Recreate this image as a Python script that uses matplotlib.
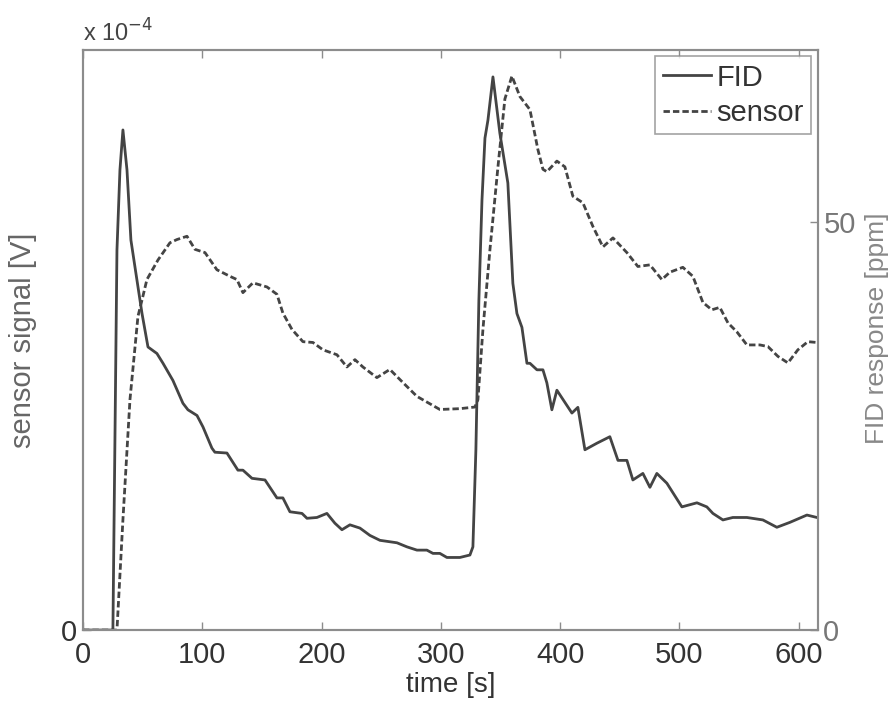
import matplotlib
matplotlib.use("Agg")
import matplotlib.pyplot as plt
import numpy as np

plt.rcParams['font.family'] = ['Liberation Sans', 'DejaVu Sans']

# FID response [ppm] (right axis)
fid_t = [0.0, 25.1, 28.5, 31.0, 33.5, 36.9, 40.2, 43.6, 49.5, 54.5, 62.0, 67.1, 75.4, 83.8, 88.0,
         95.6, 100.6, 108.1, 110.6, 120.7, 129.9, 134.1, 141.7, 152.6, 162.6, 167.6, 173.5, 183.6,
         187.8, 196.1, 204.5, 211.2, 217.1, 223.8, 232.2, 240.6, 249.0, 263.2, 271.6, 280.0, 288.3,
         293.4, 299.2, 305.1, 316.0, 324.4, 326.9, 329.4, 331.9, 334.5, 337.0, 339.5, 343.7, 349.5,
         356.2, 360.4, 363.8, 368.0, 372.2, 374.7, 380.6, 385.6, 388.9, 393.1, 397.3, 409.9, 414.9,
         420.8, 430.8, 441.7, 448.5, 456.0, 461.0, 469.4, 475.3, 481.1, 489.5, 502.1, 514.7, 523.0,
         528.1, 536.5, 544.8, 556.6, 570.0, 581.7, 592.6, 606.9, 615.3]
fid_ppm = [0, 0, 46.6, 56.4, 61.3, 56.4, 47.8, 44.5, 38.8, 34.7, 33.9, 32.7, 30.6, 27.8, 27.0,
           26.3, 24.9, 22.3, 21.8, 21.7, 19.6, 19.6, 18.6, 18.4, 16.2, 16.2, 14.5, 14.3,
           13.7, 13.8, 14.3, 13.1, 12.3, 12.9, 12.5, 11.6, 11.0, 10.7, 10.2, 9.8, 9.8,
           9.4, 9.4, 8.9, 8.9, 9.2, 10.2, 22.1, 40.4, 52.7, 60.3, 62.5, 67.8, 60.9,
           54.8, 42.5, 38.8, 37.1, 32.7, 32.7, 31.9, 31.9, 30.3, 27.0, 29.4, 26.6, 27.3,
           22.1, 22.9, 23.7, 20.8, 20.8, 18.4, 19.2, 17.5, 19.2, 18.0, 15.1, 15.6, 15.1,
           14.3, 13.5, 13.8, 13.8, 13.5, 12.6, 13.2, 14.1, 13.8]

# sensor signal [x 1e-4 V] (left axis)
sen_t = [0.0, 28.5, 33.5, 39.4, 46.1, 49.5, 53.6, 62.9, 72.9, 78.8, 87.2, 93.9, 102.3, 112.3,
         123.2, 129.1, 134.1, 142.5, 154.2, 162.6, 167.6, 175.2, 184.4, 192.8, 201.2, 212.9,
         221.3, 228.0, 234.7, 246.4, 257.3, 268.2, 280.0, 299.2, 316.0, 328.6, 331.1, 335.3,
         341.2, 347.9, 353.7, 359.6, 366.3, 374.7, 381.4, 385.6, 388.9, 397.3, 404.0, 410.7,
         419.1, 427.5, 435.9, 444.3, 456.0, 465.2, 475.3, 485.3, 492.0, 502.9, 511.3, 519.7,
         527.2, 533.9, 540.7, 548.2, 556.6, 567.5, 574.2, 582.6, 591.0, 599.3, 607.7, 615.3]
sen_v = [0, 0, 1.35, 2.82, 3.84, 4.04, 4.29, 4.53, 4.74, 4.78, 4.82, 4.66, 4.62, 4.41,
         4.33, 4.29, 4.13, 4.25, 4.20, 4.11, 3.88, 3.68, 3.53, 3.52, 3.43, 3.37,
         3.22, 3.31, 3.22, 3.09, 3.19, 3.03, 2.86, 2.70, 2.71, 2.73, 2.82, 3.68,
         4.66, 5.67, 6.50, 6.78, 6.53, 6.37, 5.88, 5.64, 5.61, 5.74, 5.67, 5.31,
         5.23, 4.94, 4.69, 4.80, 4.62, 4.45, 4.47, 4.29, 4.38, 4.44, 4.33, 4.01,
         3.92, 3.95, 3.76, 3.65, 3.49, 3.49, 3.47, 3.35, 3.27, 3.43, 3.53, 3.52]

x_ticks = [0, 100, 200, 300, 400, 500, 600]
right_ticks = [0, 50]
left_ticks = [0]

line_col = '#444444'
spine_col = '#8c8c8c'
fs = 21

fig = plt.figure(figsize=(8.95, 7.04), dpi=100)
ax = fig.add_axes([0.0927, 0.105, 0.821, 0.824])
ax2 = ax.twinx()

l2, = ax.plot(sen_t, np.array(sen_v) * 1e-4, color=line_col, lw=2.0, ls=(0, (2.3, 1.1)),
              label='sensor')
l1, = ax2.plot(fid_t, fid_ppm, color=line_col, lw=2.0, ls='-', label='FID')

ax.set_xlim(0, 616)
ax.set_ylim(0, 7.1e-4)
ax2.set_ylim(0, 71.1)

ax.set_xticks(x_ticks)
ax.set_yticks(left_ticks)
ax.set_yticklabels(['0'])
ax2.set_yticks(right_ticks)

for a in (ax, ax2):
    for s in a.spines.values():
        s.set_color(spine_col)
        s.set_linewidth(1.5)

ax.tick_params(axis='x', direction='in', length=6, width=1, colors=spine_col,
               labelcolor='#333333', labelsize=fs, top=True, pad=8)
ax.tick_params(axis='y', direction='in', length=6, width=1, colors=spine_col,
               labelcolor='#333333', labelsize=fs, pad=4)
ax2.tick_params(axis='y', direction='in', length=6, width=1, colors=spine_col,
                labelcolor='#777777', labelsize=fs, pad=4)

ax.set_xlabel('time [s]', fontsize=20, color='#333333', labelpad=2)
ax.set_ylabel('sensor signal [V]', fontsize=fs, color='#666666')
ax.yaxis.set_label_coords(-0.063, 0.5)
ax2.set_ylabel('FID response [ppm]', fontsize=19, color='#888888')
ax2.yaxis.set_label_coords(1.064, 0.52)

ax.text(0.0, 1.0138, r'x 10$^{-4}$', transform=ax.transAxes, fontsize=17,
        color='#444444', ha='left', va='baseline')

leg = ax2.legend([l1, l2], ['FID', 'sensor'], loc='upper right', fontsize=fs,
                 frameon=True, fancybox=False, handlelength=1.65, handletextpad=0.2,
                 borderpad=0.25, labelspacing=0.25, borderaxespad=0.22)
leg.get_frame().set_edgecolor(spine_col)
leg.get_frame().set_linewidth(1.2)
for t in leg.get_texts():
    t.set_color('#333333')

fig.savefig('out.png', dpi=100)
